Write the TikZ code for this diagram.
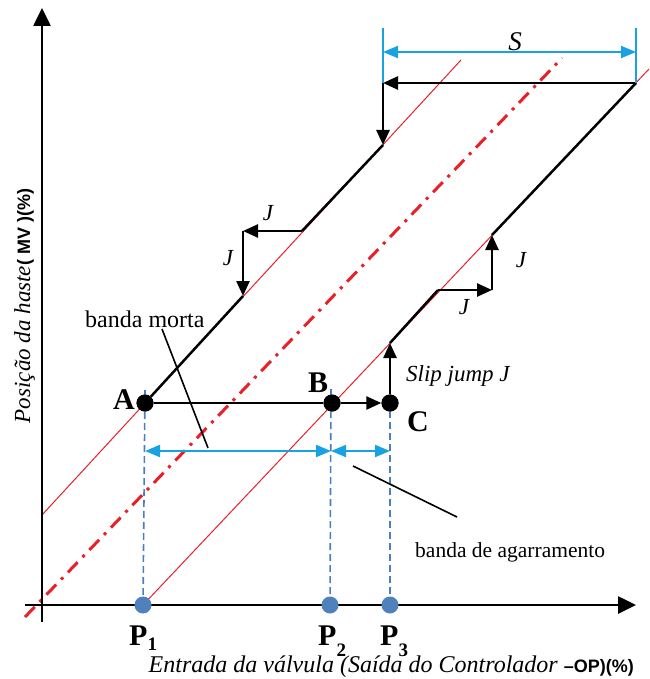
\documentclass[tikz,border=0pt]{standalone}
\usepackage{fontspec}
\setmainfont{Liberation Serif}
\newfontfamily\sansfnt{Liberation Sans}
\usetikzlibrary{arrows.meta}
\definecolor{myred}{RGB}{232,32,40}
\definecolor{steel}{RGB}{74,126,190}
\definecolor{cyanb}{RGB}{25,162,226}
\definecolor{pdot}{RGB}{79,129,189}
\begin{document}
\begin{tikzpicture}[x=1pt,y=-1pt,
  blk/.style={line width=2.5pt, black},
  blkarr/.style={blk, -{Triangle[length=15pt,width=13pt]}},
  axisarr/.style={line width=2.6pt, black, -{Triangle[length=18pt,width=17pt]}},
  redthin/.style={line width=1pt, myred},
  reddashdot/.style={line width=3pt, myred, dash pattern=on 14pt off 7pt on 3pt off 7pt},
  bluedash/.style={line width=1.6pt, steel, dash pattern=on 7pt off 4pt},
  dimarr/.style={line width=2pt, cyanb, {Triangle[length=15pt,width=12pt]}-{Triangle[length=15pt,width=12pt]}},
  dimline/.style={line width=1.5pt, cyanb},
  bdot/.style={circle, fill=black, minimum size=17pt, inner sep=0pt},
  pdotst/.style={circle, fill=pdot, minimum size=17pt, inner sep=0pt},
  leader/.style={line width=1.6pt, black},
  txt/.style={font=\fontsize{24}{26}\selectfont, inner sep=0pt},
  jlab/.style={font=\itshape\fontsize{23}{26}\selectfont, inner sep=0pt},
  ptlab/.style={font=\bfseries\fontsize{30}{30}\selectfont, inner sep=0pt},
]
\useasboundingbox (0,0) rectangle (649,679);

% coordinates
\coordinate (xs) at (25,605);
\coordinate (xe) at (636,605);
\coordinate (ys) at (42,622);
\coordinate (ye) at (42,8);

\coordinate (C2) at (390,343);
\coordinate (D1) at (438,290);
\coordinate (D2) at (492,290);
\coordinate (D3) at (492,235);
\coordinate (E) at (636,83);
\coordinate (F) at (383,83);
\coordinate (F2) at (383,145);
\coordinate (G1) at (302,231);
\coordinate (G2) at (243,231);
\coordinate (G3) at (243,296);

\coordinate (ru1) at (42,515);
\coordinate (ru2) at (461,60);
\coordinate (rl1) at (143,605);
\coordinate (rl2) at (649,69);
\coordinate (rd1) at (25,617);
\coordinate (rd2) at (562,58);

\coordinate (Atop) at (145,390);
\coordinate (Btop) at (331,389);
\coordinate (Ctop) at (390,389);
\coordinate (dA) at (145,451);
\coordinate (dB) at (331,451);
\coordinate (dC) at (390,451);
\coordinate (sT1) at (383,28);
\coordinate (sT2) at (636,28);
\coordinate (sA) at (383,52);
\coordinate (sB) at (636,52);

\coordinate (bm1) at (162,329);
\coordinate (bm2) at (208,448);
\coordinate (ba1) at (353,466);
\coordinate (ba2) at (457,517);

% red guide lines
\draw[redthin] (ru1) -- (ru2);
\draw[redthin] (rl1) -- (rl2);
\draw[reddashdot] (rd1) -- (rd2);

% axes
\draw[axisarr] (xs) -- (xe);
\draw[axisarr] (ys) -- (ye);

% points
\node[bdot] (A) at (145,403) {};
\node[bdot] (B) at (332,403) {};
\node[bdot] (C) at (390,403) {};
\node[pdotst] (P1) at (143,605) {};
\node[pdotst] (P2) at (330,605) {};
\node[pdotst] (P3) at (390,605) {};

% blue dashed verticals
\draw[bluedash] (Atop) -- (P1);
\draw[bluedash] (Btop) -- (P2);
\draw[bluedash] (Ctop) -- (P3);
\node[bdot] at (A) {};
\node[bdot] at (B) {};
\node[bdot] at (C) {};

% black hysteresis path
\draw[blk] (A) -- (B);
\draw[blkarr] (B) -- (C);
\draw[blkarr] (C) -- (C2);
\draw[blk] (C2) -- (D1);
\draw[blkarr] (D1) -- (D2);
\draw[blkarr] (D2) -- (D3);
\draw[blk] (D3) -- (E);
\draw[blkarr] (E) -- (F);
\draw[blkarr] (F) -- (F2);
\draw[blk] (F2) -- (G1);
\draw[blkarr] (G1) -- (G2);
\draw[blkarr] (G2) -- (G3);
\draw[blk] (G3) -- (A);

% dimension arrows
\draw[dimarr] (dA) -- (dB);
\draw[dimarr] (dB) -- (dC);
\draw[dimline] (F) -- (sT1);
\draw[dimline] (E) -- (sT2);
\draw[dimarr] (sA) -- (sB);

% leaders
\draw[leader] (bm1) -- (bm2);
\draw[leader] (ba1) -- (ba2);

% labels
\node[jlab, font=\itshape\fontsize{27}{28}\selectfont] (lS) at (515,42) {S};
\node[jlab] (lJ1) at (268,213) {J};
\node[jlab] (lJ2) at (228,258) {J};
\node[jlab] (lJ3) at (521,260) {J};
\node[jlab] (lJ4) at (464,307) {J};
\node[jlab, anchor=base west] (lslip) at (406,381) {Slip jump J};
\node[txt, anchor=base west] (lbm) at (85,327) {banda morta};
\node[txt, font=\fontsize{21.5}{24}\selectfont, anchor=base west] (lba) at (415,557) {banda de agarramento};

\node[ptlab, anchor=base] (lA) at (124,409) {A};
\node[ptlab, anchor=base] (lB) at (318,392) {B};
\node[ptlab, anchor=base] (lC) at (418,431) {C};

\node[ptlab, anchor=base west] (lP1) at (129,645) {P\raisebox{-5pt}{\fontsize{19}{20}\selectfont 1}};
\node[ptlab, anchor=base west] (lP2) at (318,645) {P\raisebox{-11pt}{\fontsize{19}{20}\selectfont 2}};
\node[ptlab, anchor=base west] (lP3) at (380,645) {P\raisebox{-11pt}{\fontsize{19}{20}\selectfont 3}};

\node[inner sep=0pt, anchor=base east] (lx) at (634,672)
  {\itshape\fontsize{24}{26}\selectfont Entrada da válvula (Saída do Controlador \upshape\sansfnt\bfseries\fontsize{18}{20}\selectfont –OP)(\%)};
\node[inner sep=0pt, anchor=base, rotate=90] (ly) at (30,306)
  {\itshape\fontsize{23}{24}\selectfont Posição da haste\upshape\sansfnt\bfseries\fontsize{18}{20}\selectfont ( MV )(\%)};
\end{tikzpicture}
\end{document}
